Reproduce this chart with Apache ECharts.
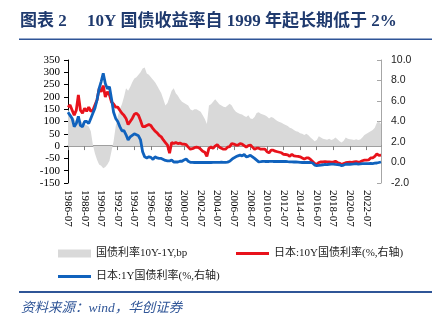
<!DOCTYPE html>
<html>
<head>
<meta charset="utf-8">
<script src="https://cdn.jsdelivr.net/npm/echarts@6/dist/echarts.min.js"></script>
<style>
html,body{margin:0;padding:0;background:#fff;}
#c{width:435px;height:321px;}
</style>
</head>
<body>
<div id="c"></div>
<script>
// Quarterly observations, 1986-07 .. 2024-04
var categories = [];
(function(){
  var months = ['01','04','07','10'];
  var y = 1986, q = 2;
  for (var i = 0; i < 152; i++) {
    categories.push(y + '-' + months[q]);
    q++; if (q > 3) { q = 0; y++; }
  }
})();

// 国债利率10Y-1Y, bp (left axis)
var spread10y1y = [
  150,130,120,110,100,120,105,95,90,85,
  80,60,5,-30,-55,-75,-80,-90,-85,-75,
  -60,-20,20,80,120,150,170,200,235,225,
  240,260,275,280,290,300,315,320,295,290,
  280,270,260,245,230,215,190,165,175,200,
  225,235,215,205,190,180,175,170,165,150,
  145,150,150,145,140,125,110,90,165,170,
  180,190,180,170,165,160,158,165,172,165,
  150,140,135,130,128,122,118,125,112,110,
  118,135,138,132,128,125,120,112,118,115,
  108,102,98,95,90,86,82,75,72,65,
  60,58,52,50,45,50,44,35,28,20,
  25,40,35,30,28,26,30,25,28,35,
  28,20,15,22,35,30,28,27,25,28,
  25,27,35,45,50,55,60,65,75,95,
  100,90
];

// 日本:10Y国债利率 (%, right axis)
var jp10y = [
  5.4,5.6,5.1,4.6,5.1,6.6,5.1,4.8,5.3,5.0,
  5.4,5.0,5.1,5.6,6.1,7.2,6.9,7.5,6.4,6.9,
  6.6,5.9,5.7,5.4,5.4,5.1,4.8,4.6,4.3,3.7,
  4.0,4.3,4.7,4.8,4.6,4.1,3.5,3.5,3.6,3.7,
  3.6,3.3,3.05,2.9,2.65,2.5,2.2,1.95,1.7,0.9,
  1.95,1.85,1.95,1.85,1.9,1.8,1.8,1.75,1.5,1.3,
  1.35,1.45,1.5,1.45,1.3,1.1,1.0,0.6,1.4,1.5,
  1.4,1.6,1.75,1.5,1.4,1.3,1.3,1.5,1.55,1.85,
  1.8,1.7,1.7,1.85,1.8,1.65,1.5,1.65,1.7,1.5,
  1.3,1.4,1.4,1.3,1.3,1.3,1.05,0.95,1.2,1.2,
  1.1,1.05,1.0,0.95,0.8,0.78,0.75,0.6,0.8,0.65,
  0.62,0.6,0.55,0.45,0.35,0.45,0.45,0.3,0.1,-0.1,
  -0.2,0.0,0.06,0.05,0.08,0.05,0.07,0.04,0.04,0.12,
  0.0,-0.08,-0.2,-0.1,-0.02,0.02,0.03,0.02,0.05,0.08,
  0.04,0.07,0.17,0.23,0.24,0.25,0.45,0.45,0.6,0.85,
  0.7,0.72
];

// 日本:1Y国债利率 (%, right axis)
var jp1y = [
  4.9,4.6,4.3,3.5,3.8,4.5,3.6,3.5,4.0,4.0,
  3.8,4.3,4.8,5.3,6.1,7.2,7.9,8.7,7.7,7.2,
  7.4,6.2,4.9,4.3,4.0,3.5,3.1,3.1,2.7,2.2,
  2.5,2.65,2.8,2.7,2.6,2.2,1.05,0.55,0.45,0.55,
  0.5,0.3,0.55,0.45,0.4,0.4,0.3,0.2,0.15,0.15,
  0.25,0.05,0.05,0.05,0.12,0.12,0.25,0.35,0.12,0.02,
  0.01,0.0,0.01,0.0,0.01,0.0,0.01,0.0,0.01,0.0,
  0.01,0.01,0.02,0.02,0.03,0.02,0.02,0.04,0.12,0.3,
  0.45,0.55,0.65,0.72,0.65,0.78,0.55,0.6,0.7,0.55,
  0.4,0.23,0.06,0.08,0.12,0.1,0.1,0.1,0.12,0.1,
  0.1,0.1,0.1,0.1,0.1,0.1,0.08,0.07,0.06,0.05,
  0.05,0.04,0.02,0.0,0.0,0.0,0.0,0.0,-0.05,-0.25,
  -0.3,-0.28,-0.25,-0.22,-0.18,-0.2,-0.17,-0.15,-0.15,-0.18,
  -0.2,-0.22,-0.3,-0.25,-0.17,-0.15,-0.17,-0.15,-0.14,-0.12,
  -0.15,-0.13,-0.11,-0.1,-0.12,-0.1,-0.08,-0.1,-0.07,-0.05,
  0.0,0.05
];

var leftTicks = {min: -150, max: 350, interval: 50};
var rightTicks = {min: -2, max: 10, interval: 2};
var labelEvery = 8; // one x label every 8 quarters (2 years)

var names = ['国债利率10Y-1Y,bp', '日本:10Y国债利率(%,右轴)', '日本:1Y国债利率(%,右轴)'];
var serif = "'Liberation Serif','Noto Sans CJK SC',serif";

var chart = echarts.init(document.getElementById('c'), null, {renderer: 'canvas'});
chart.setOption({
  animation: false,
  backgroundColor: '#fff',
  grid: {left: 68, right: 54, top: 60, bottom: 138, containLabel: false},
  legend: [
    {data: [names[0]], left: 53, top: 243, icon: 'rect', itemWidth: 33, itemHeight: 8,
     textStyle: {fontFamily: serif, fontSize: 11, color: '#222'}},
    {data: [names[1]], left: 231, top: 243, icon: 'rect', itemWidth: 33, itemHeight: 3,
     textStyle: {fontFamily: serif, fontSize: 11, color: '#222'}},
    {data: [names[2]], left: 53, top: 266, icon: 'rect', itemWidth: 33, itemHeight: 3,
     textStyle: {fontFamily: serif, fontSize: 11, color: '#222'}}
  ],
  xAxis: [
    {type: 'category', data: categories, boundaryGap: false, position: 'bottom',
     axisLine: {show: false, onZero: false}, axisTick: {show: false},
     axisLabel: {show: false}},
    {type: 'category', data: categories, boundaryGap: false, position: 'bottom',
     axisLine: {show: true, onZero: true, onZeroAxisIndex: 0, lineStyle: {color: '#808080', width: 1.5}},
     axisTick: {show: true, interval: labelEvery - 1, length: 4, lineStyle: {color: '#808080', width: 1}},
     axisLabel: {show: false}, splitLine: {show: false}}
  ],
  yAxis: [
    {type: 'value', position: 'left', min: leftTicks.min, max: leftTicks.max, interval: leftTicks.interval,
     axisLine: {show: true, lineStyle: {color: '#000', width: 1}},
     axisTick: {show: true, length: 4, lineStyle: {color: '#000'}},
     axisLabel: {margin: 8, fontFamily: serif, fontSize: 11, color: '#000'},
     splitLine: {show: false}},
    {type: 'value', position: 'right', min: rightTicks.min, max: rightTicks.max, interval: rightTicks.interval,
     axisLine: {show: true, lineStyle: {color: '#a6a6a6', width: 1}},
     axisTick: {show: true, inside: true, length: 4, lineStyle: {color: '#a6a6a6'}},
     axisLabel: {margin: 10, fontFamily: "'Liberation Sans',sans-serif", fontSize: 10.5, color: '#222',
                 formatter: function(v){ return v.toFixed(1); }},
     splitLine: {show: false}}
  ],
  series: [
    {name: names[0], type: 'line', xAxisIndex: 0, yAxisIndex: 0, data: spread10y1y,
     symbol: 'none', color: '#d9d9d9', lineStyle: {width: 0, color: '#d9d9d9'},
     areaStyle: {color: '#d9d9d9', opacity: 1}, z: 1},
    {name: names[1], type: 'line', xAxisIndex: 0, yAxisIndex: 1, data: jp10y,
     symbol: 'none', color: '#e8121b', lineStyle: {width: 2.8, color: '#e8121b'}, z: 3},
    {name: names[2], type: 'line', xAxisIndex: 0, yAxisIndex: 1, data: jp1y,
     symbol: 'none', color: '#1062bd', lineStyle: {width: 2.8, color: '#1062bd'}, z: 4}
  ]
});

// x-axis labels: positioned through the category axis scale, rotated like the original
var graphics = [
  {type: 'text', left: 20, top: 13, style: {text: '图表 2', fontFamily: serif, fontWeight: 'bold', fontSize: 17, fill: '#1f3a6e'}},
  {type: 'text', left: 87, top: 13, style: {text: '10Y 国债收益率自 1999 年起长期低于 2%', fontFamily: serif, fontWeight: 'bold', fontSize: 17, fill: '#1f3a6e'}},
  {type: 'rect', shape: {x: 19, y: 38.5, width: 413, height: 1.5}, style: {fill: '#2f5597'}},
  {type: 'rect', shape: {x: 19, y: 291, width: 413, height: 2}, style: {fill: '#2f5597'}},
  {type: 'text', left: 21, top: 302, style: {text: '资料来源：wind，华创证券', fontFamily: serif, fontStyle: 'italic', fontSize: 13.5, fill: '#2f5597'}}
];
var bottomPx = chart.convertToPixel({yAxisIndex: 0}, leftTicks.min);
for (var i = 0; i < categories.length; i += labelEvery) {
  var px = chart.convertToPixel({xAxisIndex: 0}, categories[i]);
  graphics.push({
    type: 'text', x: px, y: bottomPx + 7, rotation: -Math.PI / 2,
    style: {text: categories[i], fontFamily: serif, fontSize: 11, fill: '#000',
            align: 'left', verticalAlign: 'middle'}
  });
}
chart.setOption({graphic: graphics});
</script>
</body>
</html>
